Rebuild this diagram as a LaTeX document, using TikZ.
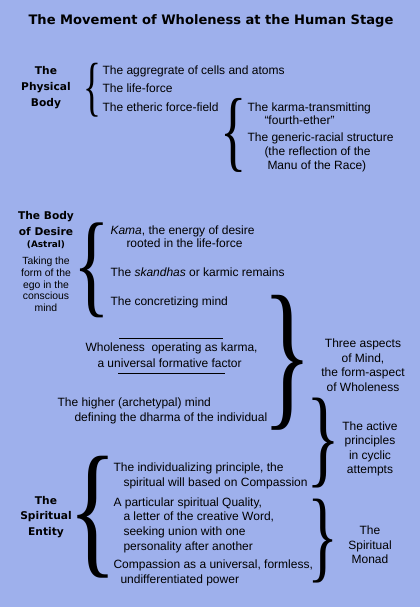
\documentclass[tikz,border=0pt]{standalone}
\usepackage{fontspec}
\setmainfont{Liberation Sans}
\newfontfamily\headfont{DejaVu Sans}
\newfontfamily\glyphfont{Liberation Serif}
\definecolor{pagebg}{RGB}{158,176,236}
% brace glyph stretched to a given width and height (pt), side bearings trimmed
\newcommand{\tallbrace}[3]{\resizebox*{#1pt}{#2pt}{\glyphfont\kern-0.07em#3\kern-0.07em}}

\tikzset{every picture/.style={line width=0.75pt}}
\tikzset{
  txt/.style={anchor=mid west, inner sep=0pt, font=\fontsize{9}{10.9}\selectfont},
  side/.style={inner sep=0pt, align=center, font=\fontsize{9}{10.9}\selectfont},
  head/.style={inner sep=0pt, align=center, font=\headfont\bfseries\fontsize{8}{12}\selectfont},
  note/.style={inner sep=0pt, align=center, font=\fontsize{7.8}{8.8}\selectfont},
  curly/.style={inner sep=0pt},
}

\begin{document}
\begin{tikzpicture}[x=0.75pt,y=0.75pt,yscale=-1,xscale=1]
%set diagram to 420 x 607
\fill [pagebg] (0,0) rectangle (420,607);

% Title
\node (title) at (211,21) [anchor=mid, inner sep=0pt, font=\headfont\bfseries\fontsize{9.8}{11}\selectfont] {The Movement of Wholeness at the Human Stage};

%Shape: Brace [physical]
\node (brphys) at (92,90) [curly] {\tallbrace{9.5}{40.5}{\{}};
%Shape: Brace [ether]
\node (brether) at (234,135) [curly] {\tallbrace{14}{55.5}{\{}};
%Shape: Brace [desire]
\node (brdesire) at (92,270) [curly] {\tallbrace{19.5}{71.25}{\{}};
%Shape: Brace [mind]
\node (brmind) at (287.5,363) [curly] {\tallbrace{26.5}{101.25}{\}}};
%Shape: Brace [active]
\node (bractive) at (323.5,443) [curly] {\tallbrace{18}{67.5}{\}}};
%Shape: Brace [monad]
\node (brmonad) at (323,541) [curly] {\tallbrace{16.5}{63}{\}}};
%Shape: Brace [entity]
\node (brentity) at (93,517) [curly] {\tallbrace{26}{91.5}{\{}};

%Straight Lines [over]
\draw    (119,338) -- (223,338) ;
%Straight Lines [under]
\draw    (118,373) -- (225,373) ;

% Text Node
\node (physical) at (46,88) [head] {The\\Physical\\Body};
% Text Node
\node (cells) at (102,71) [txt] {The aggregrate of cells and atoms};
% Text Node
\node (life) at (102,89) [txt] {The life-force};
% Text Node
\node (etheric) at (102,108) [txt] {The etheric force-field};
% Text Node
\node (karmatr) at (247,108) [txt] {The karma-transmitting};
% Text Node
\node (fourth) at (264,121) [txt] {``fourth-ether''};
% Text Node
\node (generic) at (247,138) [txt] {The generic-racial structure};
% Text Node
\node (reflect) at (264,152) [txt] {(the reflection of the};
% Text Node
\node (manu) at (267,166) [txt] {Manu of the Race)};

% Text Node
\node (desire) at (46,224) [head] {The Body\\of Desire};
% Text Node
\node (astral) at (46,245) [head, font=\headfont\bfseries\fontsize{6.7}{8}\selectfont] {(Astral)};
% Text Node
\node (taking) at (46,284.5) [note] {Taking the\\form of the\\ego in the\\conscious\\mind};
% Text Node
\node (kama) at (110,231) [txt] {\textit{Kama}, the energy of desire};
% Text Node
\node (rooted) at (126,244) [txt] {rooted in the life-force};
% Text Node
\node (skandhas) at (110,273) [txt] {The \textit{skandhas} or karmic remains};
% Text Node
\node (concrete) at (110,302) [txt] {The concretizing mind};

% Text Node
\node (karma) at (85,348) [txt] {Wholeness\ \ operating as karma,};
% Text Node
\node (formative) at (97,364) [txt] {a universal formative factor};
% Text Node
\node (higher) at (57,403) [txt] {The higher (archetypal) mind};
% Text Node
\node (dharma) at (74,418) [txt] {defining the dharma of the individual};

% Text Node
\node (aspects) at (363,365) [side] {Three aspects\\of Mind,\\the form-aspect\\of Wholeness};
% Text Node
\node (active) at (370,449) [side] {The active\\principles\\in cyclic\\attempts};
% Text Node
\node (monad) at (370,545) [side] {The\\Spiritual\\Monad};

% Text Node
\node (entity) at (46,517) [head, font=\headfont\bfseries\fontsize{8}{11.6}\selectfont] {The\\Spiritual\\Entity};
% Text Node
\node (indiv) at (113,468) [txt] {The individualizing principle, the};
% Text Node
\node (will) at (123,483) [txt] {spiritual will based on Compassion};
% Text Node
\node (quality) at (113,503) [txt] {A particular spiritual Quality,};
% Text Node
\node (letter) at (123,517) [txt] {a letter of the creative Word,};
% Text Node
\node (union) at (123,532) [txt] {seeking union with one};
% Text Node
\node (person) at (123,547) [txt] {personality after another};
% Text Node
\node (universal) at (113,565) [txt] {Compassion as a universal, formless,};
% Text Node
\node (power) at (120,580) [txt] {undifferentiated power};

\end{tikzpicture}
\end{document}
